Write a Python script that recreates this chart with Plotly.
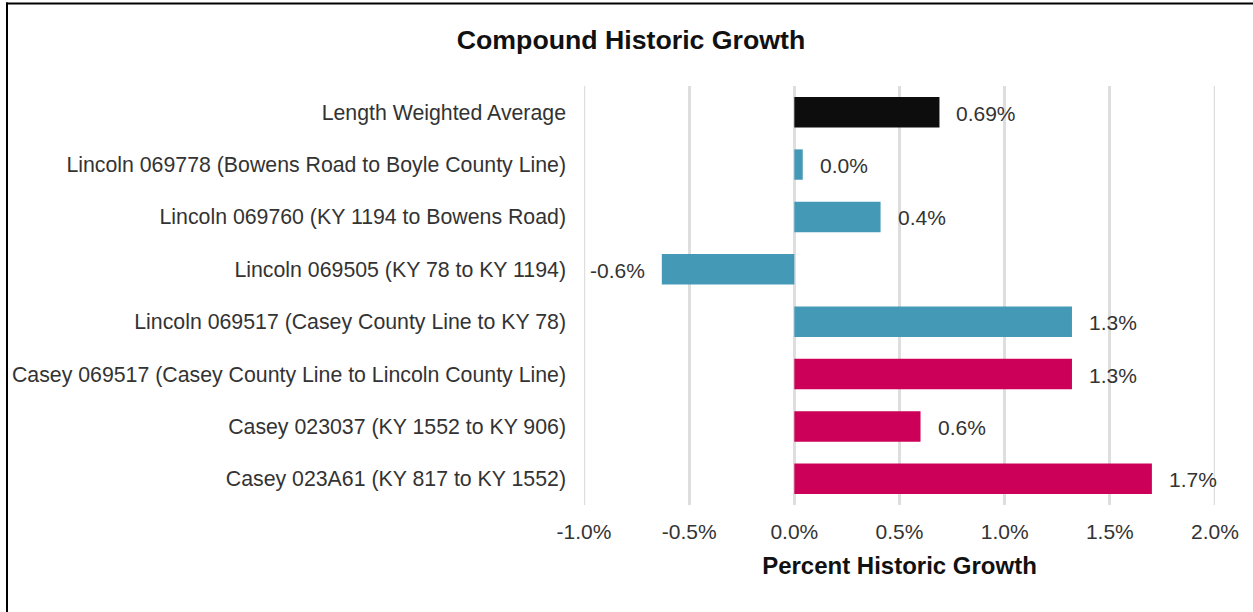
import plotly.graph_objects as go

categories = [
    "Length Weighted Average",
    "Lincoln 069778 (Bowens Road to Boyle County Line)",
    "Lincoln 069760 (KY 1194 to Bowens Road)",
    "Lincoln 069505 (KY 78 to KY 1194)",
    "Lincoln 069517 (Casey County Line to KY 78)",
    "Casey 069517 (Casey County Line to Lincoln County Line)",
    "Casey 023037 (KY 1552 to KY 906)",
    "Casey 023A61 (KY 817 to KY 1552)",
]
values = [0.69, 0.04, 0.41, -0.63, 1.32, 1.32, 0.60, 1.70]
labels = ["0.69%", "0.0%", "0.4%", "-0.6%", "1.3%", "1.3%", "0.6%", "1.7%"]
groups = ["avg", "lincoln", "lincoln", "lincoln", "lincoln", "casey", "casey", "casey"]
group_colors = {"avg": "#0D0D0D", "lincoln": "#4499B7", "casey": "#CC0058"}
tick_vals = [-1.0, -0.5, 0.0, 0.5, 1.0, 1.5, 2.0]
tick_text = ["-1.0%", "-0.5%", "0.0%", "0.5%", "1.0%", "1.5%", "2.0%"]

FONT = "Liberation Sans, Arial, sans-serif"
TXT = "#333333"
GRID = "#DEDEDE"

fig = go.Figure(go.Bar(
    x=values, y=categories, orientation="h",
    marker=dict(color=[group_colors[g] for g in groups], line=dict(width=0)),
    width=0.58, hoverinfo="x+y",
))

for v, c, t in zip(values, categories, labels):
    fig.add_annotation(
        x=v, y=c, text=t, showarrow=False,
        xanchor="left" if v >= 0 else "right",
        xshift=15 if v >= 0 else -15, yshift=-1,
        font=dict(family=FONT, size=21, color=TXT),
    )

fig.update_layout(
    width=1253, height=612,
    margin=dict(l=584, r=38, t=86, b=107, autoexpand=False),
    plot_bgcolor="white", paper_bgcolor="white",
    font=dict(family=FONT, size=21, color=TXT),
    title=dict(text="<b>Compound Historic Growth</b>", x=631 / 1253, xanchor="center",
               y=1 - 40 / 612, yanchor="middle",
               font=dict(size=26.7, color="#111111")),
    showlegend=False,
)
fig.update_xaxes(
    range=[tick_vals[0], tick_vals[-1]], tickvals=tick_vals, ticktext=tick_text,
    showgrid=True, gridcolor=GRID, gridwidth=2.5, zeroline=False,
    showline=False, ticks="", ticklabelstandoff=12,
    tickfont=dict(size=21, color=TXT),
    title=dict(text="<b>Percent Historic Growth</b>", font=dict(size=24, color="#111111"), standoff=15),
)
fig.update_yaxes(
    autorange="reversed", showgrid=False, zeroline=False, showline=False,
    ticks="", ticklabelstandoff=17, tickfont=dict(size=21.3, color=TXT),
)

# gridlines at the range ends (plotly omits the edge ones)
for tv in (tick_vals[0], tick_vals[-1]):
    fig.add_shape(type="line", xref="x", yref="paper", x0=tv, x1=tv, y0=0, y1=1,
                  line=dict(color=GRID, width=2.5), layer="below")

# frame lines (top and left border of the source image)
PX0, PW, PY1, PH = 584, 631, 505, 419
def xp(px):
    return (px - PX0) / PW
def yp(py):
    return (PY1 - py) / PH

fig.add_shape(type="line", xref="paper", yref="paper", x0=xp(6), x1=xp(1260),
              y0=yp(3.5), y1=yp(3.5), line=dict(color="black", width=2))
fig.add_shape(type="line", xref="paper", yref="paper", x0=xp(7), x1=xp(7),
              y0=yp(2.5), y1=yp(620), line=dict(color="black", width=2))

fig.write_html("out.html", config={"displayModeBar": False},
               post_script="document.body.style.margin='0';document.body.style.overflow='hidden';")
